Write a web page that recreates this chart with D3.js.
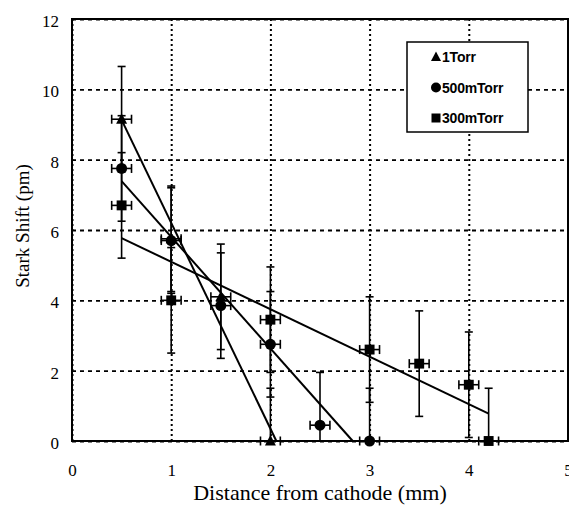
<!DOCTYPE html>
<html>
<head>
<meta charset="utf-8">
<script src="https://cdn.jsdelivr.net/npm/d3@7"></script>
<style>
  body { margin: 0; background: #fff; }
  svg { display: block; }
</style>
</head>
<body>
<div id="chart"></div>
<script>
// chart size and plot box
const width = 569;
const height = 513;
const margin = {left: 72, right: 1, top: 19, bottom: 72};

// data
const xTicks = [0, 1, 2, 3, 4, 5];
const yTicks = [0, 2, 4, 6, 8, 10, 12];
const seriesNames = ["1Torr", "500mTorr", "300mTorr"];

const x1Torr = [0.5, 1.0, 1.5, 2.0];
const y1Torr = [9.15, 5.75, 4.1, 0];
const x500 = [0.5, 1.0, 1.5, 2.0, 2.5, 3.0];
const y500 = [7.75, 5.7, 3.85, 2.75, 0.45, 0];
const x300 = [0.5, 1.0, 2.0, 3.0, 3.5, 4.0, 4.2];
const y300 = [6.7, 4.0, 3.45, 2.6, 2.2, 1.6, 0];

// error bar half widths
const xErr = 0.1;
const yErr = 1.5;

// fitted lines (end points)
const fitX1Torr = [0.5, 2.06];
const fitY1Torr = [9.13, 0];
const fitX500 = [0.5, 2.83];
const fitY500 = [7.39, 0];
const fitX300 = [0.5, 4.2];
const fitY300 = [5.77, 0.78];

const series = [
  {name: seriesNames[0], shape: "triangle", xs: x1Torr, ys: y1Torr, fx: fitX1Torr, fy: fitY1Torr},
  {name: seriesNames[1], shape: "circle", xs: x500, ys: y500, fx: fitX500, fy: fitY500},
  {name: seriesNames[2], shape: "square", xs: x300, ys: y300, fx: fitX300, fy: fitY300}
];

const svg = d3.select("#chart")
  .append("svg")
  .attr("width", width)
  .attr("height", height);

const xScale = d3.scaleLinear()
  .domain([0, 5])
  .range([margin.left, width - margin.right]);

const yScale = d3.scaleLinear()
  .domain([0, 12])
  .range([height - margin.bottom, margin.top]);

const plotW = width - margin.left - margin.right;
const plotH = height - margin.top - margin.bottom;

/* grid + axes */

const yAxis = svg.append("g")
  .attr("transform", `translate(${margin.left},0)`)
  .call(d3.axisLeft(yScale).tickValues(yTicks).tickSize(-plotW).tickPadding(13));
yAxis.select(".domain").remove();
yAxis.selectAll("line")
  .attr("stroke", "#000")
  .attr("stroke-width", 1.8)
  .attr("stroke-dasharray", "4,4");
yAxis.selectAll("text")
  .attr("dy", "0.45em")
  .attr("font-family", "'Liberation Serif', 'Times New Roman', serif")
  .attr("font-size", "17px")
  .attr("fill", "#000");

const xAxis = svg.append("g")
  .attr("transform", `translate(0,${height - margin.bottom})`)
  .call(d3.axisBottom(xScale).tickValues(xTicks).tickSize(-plotH).tickFormat(d3.format("d")));
xAxis.select(".domain").remove();
xAxis.selectAll("line")
  .attr("stroke", "#000")
  .attr("stroke-width", 2)
  .attr("stroke-dasharray", "2,3");
xAxis.selectAll("text")
  .attr("y", 35)
  .attr("dy", 0)
  .attr("font-family", "'Liberation Serif', 'Times New Roman', serif")
  .attr("font-size", "17px")
  .attr("fill", "#000");

// axis titles
svg.append("text")
  .attr("x", (margin.left + width - margin.right) / 2)
  .attr("y", 500)
  .attr("text-anchor", "middle")
  .attr("font-family", "'Liberation Serif', 'Times New Roman', serif")
  .attr("font-size", "22px")
  .text("Distance from cathode (mm)");

svg.append("text")
  .attr("transform", "translate(29,226) rotate(-90)")
  .attr("text-anchor", "middle")
  .attr("font-family", "'Liberation Serif', 'Times New Roman', serif")
  .attr("font-size", "19px")
  .text("Stark Shift (pm)");

/* fit lines, error bars, markers */

const plot = svg.append("g");

series.forEach(s => {
  plot.append("line")
    .attr("x1", xScale(s.fx[0])).attr("y1", yScale(s.fy[0]))
    .attr("x2", xScale(s.fx[1])).attr("y2", yScale(s.fy[1]))
    .attr("stroke", "#000")
    .attr("stroke-width", 2);
});

function drawMarker(g, shape, cx, cy, size) {
  if (shape === "triangle") {
    const h = size * 0.9;
    g.append("path")
      .attr("d", `M${cx},${cy - h * 0.6}L${cx + size / 2},${cy + h * 0.45}L${cx - size / 2},${cy + h * 0.45}Z`)
      .attr("fill", "#000");
  } else if (shape === "circle") {
    g.append("circle")
      .attr("cx", cx).attr("cy", cy).attr("r", size / 2)
      .attr("fill", "#000");
  } else {
    g.append("rect")
      .attr("x", cx - size * 0.45).attr("y", cy - size * 0.45)
      .attr("width", size * 0.9).attr("height", size * 0.9)
      .attr("fill", "#000");
  }
}

series.forEach(s => {
  const pts = s.xs.map((v, i) => ({x: v, y: s.ys[i]}));
  const g = plot.append("g")
    .attr("stroke", "#000")
    .attr("stroke-width", 1.6);

  pts.forEach(d => {
    const cx = xScale(d.x);
    const cy = yScale(d.y);
    const yTop = yScale(d.y + yErr);
    const low = d.y - yErr;
    const yBot = yScale(Math.max(0, low));
    const xl = xScale(d.x - xErr);
    const xr = xScale(d.x + xErr);
    // vertical bar with caps (bottom stops at the axis)
    g.append("line").attr("x1", cx).attr("x2", cx).attr("y1", yTop).attr("y2", yBot);
    g.append("line").attr("x1", cx - 4).attr("x2", cx + 4).attr("y1", yTop).attr("y2", yTop);
    if (low >= 0) {
      g.append("line").attr("x1", cx - 4).attr("x2", cx + 4).attr("y1", yBot).attr("y2", yBot);
    }
    // horizontal bar with caps
    g.append("line").attr("x1", xl).attr("x2", xr).attr("y1", cy).attr("y2", cy);
    g.append("line").attr("x1", xl).attr("x2", xl).attr("y1", cy - 4.5).attr("y2", cy + 4.5);
    g.append("line").attr("x1", xr).attr("x2", xr).attr("y1", cy - 4.5).attr("y2", cy + 4.5);
  });
});

// plot frame
svg.append("rect")
  .attr("x", margin.left)
  .attr("y", margin.top)
  .attr("width", plotW)
  .attr("height", plotH)
  .attr("fill", "none")
  .attr("stroke", "#000")
  .attr("stroke-width", 2);

// markers on top of the frame
series.forEach(s => {
  const m = svg.append("g");
  s.xs.forEach((v, i) => drawMarker(m, s.shape, xScale(v), yScale(s.ys[i]), 11));
});

/* legend */

const legend = svg.append("g");
legend.append("rect")
  .attr("x", 407).attr("y", 42)
  .attr("width", 121).attr("height", 90)
  .attr("fill", "#fff")
  .attr("stroke", "#000")
  .attr("stroke-width", 1.5);

series.forEach((s, i) => {
  const ly = 57 + i * 30.5;
  drawMarker(legend, s.shape, 436, ly, 10);
  legend.append("text")
    .attr("x", 442)
    .attr("y", ly + 5)
    .attr("font-family", "'Liberation Sans', Arial, sans-serif")
    .attr("font-weight", "bold")
    .attr("font-size", "14px")
    .attr("letter-spacing", "-0.2px")
    .text(s.name);
});
</script>
</body>
</html>
